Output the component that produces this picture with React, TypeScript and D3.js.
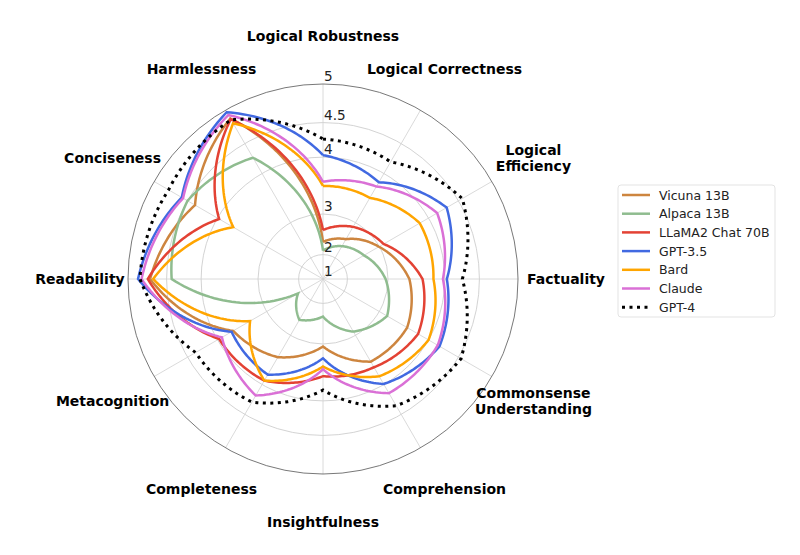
import React from "react";
import * as d3 from "d3";

// ---------- data ----------
const skillLabels = [
  "Logical Robustness",
  "Logical Correctness",
  "Logical\nEfficiency",
  "Factuality",
  "Commonsense\nUnderstanding",
  "Comprehension",
  "Insightfulness",
  "Completeness",
  "Metacognition",
  "Readability",
  "Conciseness",
  "Harmlessness",
];

const radialTicks = [1, 2, 3, 4, 4.5, 5];

const modelNames = ["Vicuna 13B", "Alpaca 13B", "LLaMA2 Chat 70B", "GPT-3.5", "Bard", "Claude", "GPT-4"];

const vicuna13b = [2.36, 2.58, 2.99, 3.41, 3.6, 3.57, 3.05, 3.48, 3.71, 4.72, 4.38, 4.88];
const alpaca13b = [2.12, 2.38, 2.61, 2.95, 3.18, 2.91, 2.37, 2.61, 2.13, 4.43, 4.5, 4.27];
const llama2chat70b = [2.65, 2.9, 3.1, 3.64, 3.81, 3.68, 3.6, 3.93, 3.97, 4.75, 3.97, 4.87];
const gpt35 = [4.03, 3.84, 4.31, 4.03, 4.19, 3.99, 3.28, 3.82, 3.74, 4.875, 4.59, 4.97];
const bard = [3.53, 3.54, 3.84, 3.82, 4.0, 3.85, 3.43, 3.93, 3.37, 4.68, 3.71, 4.81];
const claude = [3.6, 3.76, 4.15, 3.97, 4.16, 4.15, 3.48, 4.19, 3.92, 4.83, 4.57, 4.93];
const gpt4 = [4.27, 4.2, 4.56, 4.26, 4.54, 4.36, 3.83, 4.3, 4.37, 4.85, 4.79, 4.86];

const seriesValues = [vicuna13b, alpaca13b, llama2chat70b, gpt35, bard, claude, gpt4];
const seriesColors = ["#CD853F", "#8FBC8F", "#E34234", "#4169E1", "#FFA500", "#DA70D6", "#000000"];
const seriesDotted = [false, false, false, false, false, false, true];

// ---------- layout ----------
const W = 800;
const H = 555;
const cx = 323;
const cy = 279;
const R = 195;
const labelR = 243;
const FONT = "DejaVu Sans, Verdana, sans-serif";

const n = skillLabels.length;
const rScale = d3.scalePow().exponent(2).domain([1, 5]).range([0, R]);
const angleOf = (i: number) => (i * 2 * Math.PI) / n; // 0 at top, clockwise

// polar-space interpolation (as a polar plot draws its segments)
function polarPath(values: number[]): [number, number][] {
  const pts: [number, number][] = [];
  const steps = 30;
  for (let i = 0; i < n; i++) {
    const a0 = angleOf(i);
    const a1 = angleOf(i + 1);
    const r0 = rScale(values[i]);
    const r1 = rScale(values[(i + 1) % n]);
    for (let s = 0; s < steps; s++) {
      const t = s / steps;
      pts.push([a0 + (a1 - a0) * t, r0 + (r1 - r0) * t]);
    }
  }
  pts.push([angleOf(n), rScale(values[0])]);
  return pts;
}

const radialLine = d3
  .lineRadial<[number, number]>()
  .angle((d) => d[0])
  .radius((d) => d[1]);

export default function App() {
  const legendX = 618;
  const legendY = 185;
  const rowH = 18.7;
  return (
    <svg
      width={W}
      height={H}
      viewBox={`0 0 ${W} ${H}`}
      style={{ position: "absolute", left: 0, top: 0, background: "#fff" }}
      fontFamily={FONT}
    >
      <rect x={0} y={0} width={W} height={H} fill="#fff" />
      <g transform={`translate(${cx},${cy})`}>
        {/* grid circles */}
        {radialTicks
          .filter((t) => t > 1 && t < 5)
          .map((t) => (
            <circle key={t} r={rScale(t)} fill="none" stroke="#c8c8c8" strokeWidth={0.8} />
          ))}
        {/* spokes */}
        {skillLabels.map((_, i) => {
          const a = angleOf(i);
          return (
            <line
              key={i}
              x1={0}
              y1={0}
              x2={R * Math.sin(a)}
              y2={-R * Math.cos(a)}
              stroke="#d0d0d0"
              strokeWidth={0.8}
            />
          );
        })}
        {/* outer spine */}
        <circle r={R} fill="none" stroke="#555" strokeWidth={0.8} />

        {/* series */}
        {seriesValues.map((vals, k) => (
          <path
            key={k}
            d={radialLine(polarPath(vals)) || ""}
            fill="none"
            stroke={seriesColors[k]}
            strokeWidth={seriesDotted[k] ? 3 : 2.5}
            strokeDasharray={seriesDotted[k] ? "3 4.5" : undefined}
            strokeLinejoin="miter"
          />
        ))}

        {/* radial tick labels */}
        {radialTicks.map((t) => (
          <text key={t} x={1} y={-rScale(t) - 3} fontSize={13.6} fill="#222">
            {String(t)}
          </text>
        ))}

        {/* axis labels */}
        {skillLabels.map((lab, i) => {
          const a = angleOf(i);
          const x = labelR * Math.sin(a);
          const y = -labelR * Math.cos(a);
          const lines = lab.split("\n");
          const lh = 16;
          return (
            <text
              key={i}
              x={x}
              y={y}
              textAnchor="middle"
              fontSize={14}
              fontWeight="bold"
              fill="#000"
            >
              {lines.map((ln, j) => (
                <tspan key={j} x={x} y={y + (j - (lines.length - 1) / 2) * lh} dominantBaseline="central">
                  {ln}
                </tspan>
              ))}
            </text>
          );
        })}
      </g>

      {/* legend */}
      <rect
        x={legendX}
        y={legendY}
        width={157}
        height={132}
        rx={3}
        fill="#fff"
        stroke="#dcdcdc"
        strokeWidth={0.8}
      />
      {modelNames.map((name, k) => {
        const y = legendY + 10 + k * rowH;
        return (
          <g key={name}>
            <line
              x1={legendX + 4}
              x2={legendX + 32}
              y1={y}
              y2={y}
              stroke={seriesColors[k]}
              strokeWidth={seriesDotted[k] ? 3 : 2.5}
              strokeDasharray={seriesDotted[k] ? "3 4.5" : undefined}
            />
            <text x={legendX + 41} y={y} dominantBaseline="central" fontSize={12.5} fill="#222">
              {name}
            </text>
          </g>
        );
      })}
    </svg>
  );
}
